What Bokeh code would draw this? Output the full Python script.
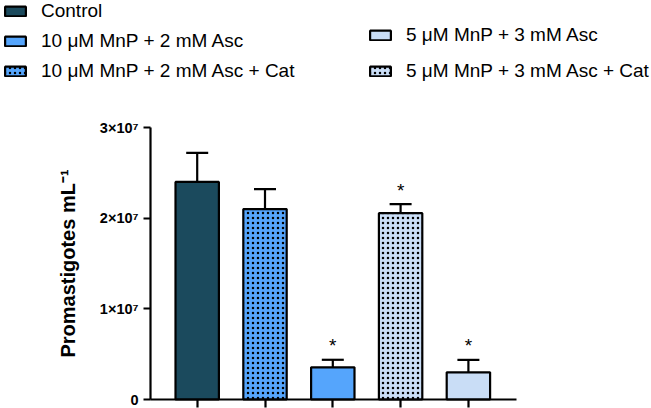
from bokeh.plotting import figure
from bokeh.models import ColumnDataSource, Legend, LegendItem, Whisker, TeeHead, FixedTicker
from bokeh.core.properties import value
from bokeh.embed import file_html
from bokeh.resources import INLINE

# ---- data ----
groups = ["Control", "10 \u03bcM MnP + 2 mM Asc + Cat", "10 \u03bcM MnP + 2 mM Asc",
          "5 \u03bcM MnP + 3 mM Asc + Cat", "5 \u03bcM MnP + 3 mM Asc"]
means = [2.40e7, 2.10e7, 0.355e7, 2.055e7, 0.30e7]
errors = [0.32e7, 0.22e7, 0.083e7, 0.10e7, 0.137e7]
significant = [False, False, True, True, True]
colors = ["#1b4a5d", "#55a5fc", "#55a5fc", "#c9ddf6", "#c9ddf6"]
patterns = [" ", "dot", " ", "dot", " "]
y_ticks = [0, 1e7, 2e7, 3e7]
y_tick_labels = ["0", "1\u00d710\u2077", "2\u00d710\u2077", "3\u00d710\u2077"]
y_label = "Promastigotes mL\u207b\u00b9"

FONT = "Liberation Sans"
W, H = 651, 408

# ---- layout (pixels) ----
AX_LEFT, AX_RIGHT, AX_TOP, AX_BOTTOM = 150, 516, 127, 399
X_FIRST, X_STEP = 196.7, 67.8          # first bar centre, bar pitch (px)
Y_MAX = y_ticks[-1]
PX_PER_Y = (AX_BOTTOM - AX_TOP) / Y_MAX

def xdat(px):
    return (px - X_FIRST) / X_STEP

x_range = (xdat(0), xdat(W))
y_range = (-(H - AX_BOTTOM) / PX_PER_Y, Y_MAX + AX_TOP / PX_PER_Y)

xs = list(range(len(groups)))
uppers = [m + e for m, e in zip(means, errors)]
src = ColumnDataSource(dict(x=xs, top=means, upper=uppers, color=colors, hatch=patterns))

p = figure(width=W, height=H, output_backend="svg", toolbar_location=None,
           x_range=x_range, y_range=y_range, min_border=0)
p.outline_line_color = None
p.grid.visible = False
p.background_fill_color = "white"
p.border_fill_color = "white"

wh = Whisker(source=src, base="x", upper="upper", lower="top",
             upper_head=TeeHead(size=22, line_width=2.2, line_color="black"),
             lower_head=None, line_width=2.2, line_color="black", level="underlay")
p.add_layout(wh)

bars = p.vbar(x="x", top="top", bottom=0, width=0.64, source=src,
              fill_color="color", hatch_pattern="hatch", line_color="black", line_width=2.2,
              hatch_color="black", hatch_scale=5, hatch_weight=0.8)

sx = [x for x, s in zip(xs, significant) if s]
sy = [u for u, s in zip(uppers, significant) if s]
p.text(x=sx, y=sy, text=["*"] * len(sx), text_align="center", text_baseline="alphabetic",
       y_offset=-14, text_font=value(FONT), text_font_size="19px", text_color="black")

# axes at fixed locations
p.yaxis.fixed_location = xdat(AX_LEFT)
p.yaxis.bounds = (0, Y_MAX)
p.yaxis.ticker = FixedTicker(ticks=y_ticks)
p.yaxis.major_label_overrides = {t: l for t, l in zip(y_ticks, y_tick_labels)}
p.yaxis.major_label_text_font = FONT
p.yaxis.major_label_text_font_style = "bold"
p.yaxis.major_label_text_font_size = "14.5px"
p.yaxis.major_label_text_color = "black"
p.yaxis.major_label_standoff = 5
p.yaxis.major_tick_out = 7
p.yaxis.major_tick_in = 0
p.yaxis.minor_tick_line_color = None
p.yaxis.axis_line_width = 2.2
p.yaxis.major_tick_line_width = 2.2
p.yaxis.axis_label = y_label
p.yaxis.axis_label_text_font = FONT
p.yaxis.axis_label_text_font_style = "bold"
p.yaxis.axis_label_text_font_size = "20px"
p.yaxis.axis_label_text_color = "black"
p.yaxis.axis_label_standoff = 18

p.xaxis.fixed_location = 0
p.xaxis.bounds = (xdat(AX_LEFT), xdat(AX_RIGHT))
p.xaxis.ticker = FixedTicker(ticks=xs)
p.xaxis.major_label_overrides = {i: "" for i in xs}
p.xaxis.major_label_text_font_size = "0px"
p.xaxis.major_label_standoff = 0
p.xaxis.major_tick_out = 8
p.xaxis.major_tick_in = 0
p.xaxis.minor_tick_line_color = None
p.xaxis.axis_line_width = 2.2
p.xaxis.major_tick_line_width = 2.2

# legends
def make_legend(idx, loc, spacing):
    items = [LegendItem(label=groups[i], renderers=[bars], index=i) for i in idx]
    lg = Legend(items=items, location=loc, orientation="vertical",
                glyph_width=26, glyph_height=12, label_standoff=13,
                label_text_font=FONT, label_text_font_size="19px", label_text_color="black",
                spacing=spacing, padding=0, margin=0, border_line_color=None,
                background_fill_alpha=0)
    p.add_layout(lg, "center")

make_legend([0, 2, 1], (2, H - 82), 8)
make_legend([4, 3], (367, H - 82), 14)

open("out.html", "w").write(file_html(p, INLINE))
